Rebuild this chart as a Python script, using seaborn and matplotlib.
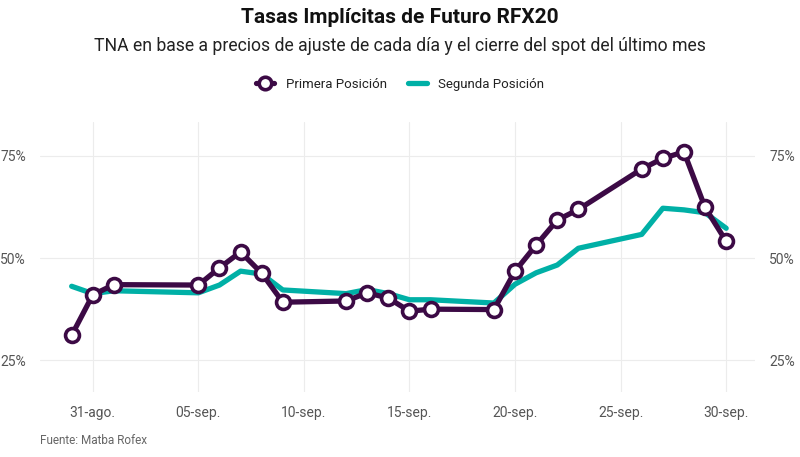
import matplotlib
matplotlib.use("Agg")
import matplotlib.pyplot as plt
from matplotlib.lines import Line2D
import seaborn as sns
import pandas as pd

# ---- data ----
dates = ["2020-08-30", "2020-08-31", "2020-09-01", "2020-09-05", "2020-09-06",
         "2020-09-07", "2020-09-08", "2020-09-09", "2020-09-12", "2020-09-13",
         "2020-09-14", "2020-09-15", "2020-09-16", "2020-09-19", "2020-09-20",
         "2020-09-21", "2020-09-22", "2020-09-23", "2020-09-26", "2020-09-27",
         "2020-09-28", "2020-09-29", "2020-09-30"]
primera = [31.1, 41.0, 43.5, 43.4, 47.6, 51.5, 46.3, 39.2, 39.5, 41.5,
           40.2, 37.0, 37.5, 37.4, 46.8, 53.2, 59.3, 61.9, 71.8, 74.4,
           76.0, 62.4, 54.1]
segunda = [43.1, 41.3, 42.0, 41.5, 43.4, 46.8, 46.1, 42.2, 41.3, 42.3,
           41.3, 39.8, 39.8, 39.0, 43.6, 46.4, 48.3, 52.4, 55.8, 62.2,
           61.8, 61.1, 57.3]
series_names = ["Primera Posición", "Segunda Posición"]
tick_dates = ["2020-08-31", "2020-09-05", "2020-09-10", "2020-09-15",
              "2020-09-20", "2020-09-25", "2020-09-30"]
tick_labels = ["31-ago.", "05-sep.", "10-sep.", "15-sep.", "20-sep.", "25-sep.", "30-sep."]
y_ticks = [25, 50, 75]
y_tick_labels = ["25%", "50%", "75%"]

title = "Tasas Implícitas de Futuro RFX20"
subtitle = "TNA en base a precios de ajuste de cada día y el cierre del spot del último mes"
source = "Fuente: Matba Rofex"

# ---- style ----
sns.set_theme(style="white")
plt.rcParams["font.family"] = ["Roboto", "DejaVu Sans"]

c1 = "#3c0a45"
c2 = "#00b0a6"

df = pd.DataFrame({"fecha": pd.to_datetime(dates), "primera": primera, "segunda": segunda})

fig = plt.figure(figsize=(8.0, 4.57), dpi=100)
ax = fig.add_axes([0.05, 0.142, 0.894, 0.591])

sns.lineplot(data=df, x="fecha", y="segunda", ax=ax, color=c2, linewidth=3.8, zorder=2)
sns.lineplot(data=df, x="fecha", y="primera", ax=ax, color=c1, linewidth=3.8,
             marker="o", markersize=10, markerfacecolor="white",
             markeredgecolor=c1, markeredgewidth=2.6, zorder=3)

ax.set_xlim(pd.Timestamp("2020-08-28 12:00"), pd.Timestamp("2020-10-01 09:00"))
ax.set_ylim(17.2, 83.3)
ax.set_xticks(pd.to_datetime(tick_dates))
ax.set_xticklabels(tick_labels)
ax.set_yticks(y_ticks)
ax.set_yticklabels(y_tick_labels)
ax.tick_params(axis="y", labelright=True, labelleft=True, length=0, pad=10,
               labelsize=10, labelcolor="#555555")
ax.tick_params(axis="x", length=0, pad=10, labelsize=10, labelcolor="#555555")
ax.grid(True, color="#ececec", linewidth=0.8)
ax.set_axisbelow(True)
for s in ax.spines.values():
    s.set_visible(False)
ax.set_xlabel("")
ax.set_ylabel("")

fig.text(0.5, 0.962, title, ha="center", va="center", fontsize=15,
         fontweight="bold", color="#111111")
fig.text(0.5, 0.900, subtitle, ha="center", va="center", fontsize=12.7, color="#222222")
fig.text(0.05, 0.037, source, ha="left", va="center", fontsize=8.5, color="#666666")

handles = [
    Line2D([0], [0], color=c1, linewidth=3.8, marker="o", markersize=9,
           markerfacecolor="white", markeredgecolor=c1, markeredgewidth=2.6),
    Line2D([0], [0], color=c2, linewidth=3.8),
]
fig.legend(handles, series_names, loc="center", bbox_to_anchor=(0.5, 0.815),
           ncol=2, frameon=False, fontsize=9.5, handlelength=1.4,
           columnspacing=1.6, handletextpad=0.9, labelcolor="#222222")

fig.savefig("out.png", dpi=100)
